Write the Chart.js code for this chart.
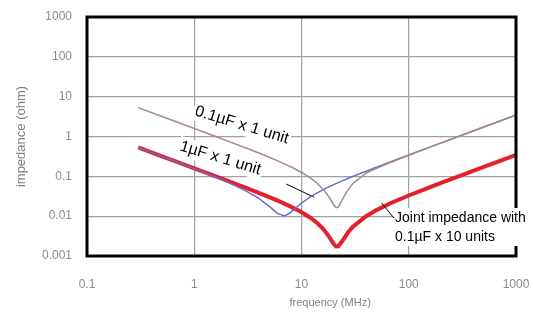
<!DOCTYPE html>
<html><head><meta charset="utf-8">
<script src="https://cdn.jsdelivr.net/npm/chart.js@4/dist/chart.umd.min.js"></script>
<style>html,body{margin:0;padding:0;background:#fff;}#wrap{width:533px;height:320px;}</style>
</head><body><div id="wrap"><canvas id="c" width="533" height="320"></canvas></div>
<script>
// frequency points (MHz)
const frequencies = [0.3,0.5,0.7,1,1.5,2,3,4,5,6,7,8,9,10,12,14,16,18,20,21,22,24,27,30,40,50,70,100,150,200,300,500,700,1000];
// impedance (ohm)
const cap01x1 = [5.30,3.18,2.27,1.59,1.06,0.789,0.520,0.384,0.301,0.245,0.203,0.172,0.146,0.125,0.0925,0.0672,0.0470,0.0307,0.0191,0.0163,0.0168,0.026,0.045,0.065,0.120,0.160,0.232,0.338,0.512,0.686,1.033,1.725,2.418,3.456];
const cap1x1 = [0.530,0.317,0.225,0.156,0.1014,0.0734,0.0439,0.0279,0.0176,0.0116,0.0101,0.0126,0.0167,0.0212,0.0299,0.0383,0.0465,0.0543,0.0619,0.0658,0.0695,0.0770,0.088,0.0989,0.1346,0.170,0.240,0.344,0.517,0.690,1.036,1.728,2.419,3.456];
const joint01x10 = [0.530,0.318,0.227,0.159,0.1056,0.0789,0.0521,0.0384,0.0301,0.0245,0.0203,0.0171,0.0146,0.0125,0.00927,0.00675,0.00474,0.00312,0.0020,0.00173,0.00174,0.00238,0.00383,0.00535,0.00999,0.0142,0.0220,0.0330,0.0508,0.0683,0.103,0.1725,0.242,0.346];
const xTickValues = [0.1,1,10,100,1000];
const xTickLabels = ['0.1','1','10','100','1000'];
const yTickValues = [0.001,0.01,0.1,1,10,100,1000];
const yTickLabels = ['0.001','0.01','0.1','1','10','100','1000'];
const seriesNames = ['0.1µF x 1 unit','1µF x 1 unit','Joint impedance with 0.1µF x 10 units'];
const jointLabelLines = ['Joint impedance with','0.1µF x 10 units'];
const xTitle = 'frequency (MHz)';
const yTitle = 'impedance (ohm)';

const toPts = arr => frequencies.map((f,i)=>({x:f,y:arr[i]}));
const FONT = '"Liberation Sans", Arial, sans-serif';

function rotatedLabel(ctx, text, x, y, angleDeg, size){
  ctx.save();
  ctx.translate(x,y);
  ctx.rotate(angleDeg*Math.PI/180);
  ctx.font = size+'px '+FONT;
  const w = ctx.measureText(text).width;
  ctx.fillStyle = '#fff';
  ctx.fillRect(-2,-size*0.62,w+4,size*1.24);
  ctx.fillStyle = '#000';
  ctx.textAlign='left'; ctx.textBaseline='middle';
  ctx.fillText(text,0,0);
  ctx.restore();
}

const annot = {
  id:'annot',
  beforeDatasetsDraw(chart){
    const {ctx, scales:{x,y}} = chart;
    rotatedLabel(ctx, seriesNames[0], x.getPixelForValue(1.02), y.getPixelForValue(4.4), 17, 16);
    rotatedLabel(ctx, seriesNames[1], x.getPixelForValue(0.74), y.getPixelForValue(0.58), 17, 16);
    ctx.save();
    ctx.strokeStyle='#000'; ctx.lineWidth=1;
    ctx.beginPath();
    ctx.moveTo(x.getPixelForValue(7.2), y.getPixelForValue(0.064));
    ctx.lineTo(x.getPixelForValue(13.1), y.getPixelForValue(0.030));
    ctx.stroke();
    ctx.restore();
  },
  afterDatasetsDraw(chart){
    const {ctx, chartArea:a, scales:{x,y}} = chart;
    ctx.save();
    ctx.strokeStyle='#000'; ctx.lineWidth=3;
    ctx.strokeRect(a.left,a.top,a.right-a.left,a.bottom-a.top);
    // joint label
    ctx.font = '14px '+FONT;
    const lx = x.getPixelForValue(74.5);
    const ly1 = y.getPixelForValue(0.009), ly2 = y.getPixelForValue(0.003);
    const w = Math.max(...jointLabelLines.map(t=>ctx.measureText(t).width));
    ctx.fillStyle='#fff';
    ctx.fillRect(lx-2, ly1-10, w+4, ly2-ly1+19);
    ctx.fillStyle='#000'; ctx.textAlign='left'; ctx.textBaseline='middle';
    ctx.fillText(jointLabelLines[0], lx, ly1);
    ctx.fillText(jointLabelLines[1], lx, ly2);
    ctx.lineWidth=1;
    ctx.beginPath();
    ctx.moveTo(x.getPixelForValue(56), y.getPixelForValue(0.0214));
    ctx.lineTo(x.getPixelForValue(72.8), y.getPixelForValue(0.0089));
    ctx.stroke();
    // x title
    ctx.font='11px '+FONT; ctx.fillStyle='#808080'; ctx.textAlign='center';
    ctx.fillText(xTitle, x.getPixelForValue(18.5), 303);
    ctx.restore();
  }
};

new Chart(document.getElementById('c'),{
  type:'line',
  data:{datasets:[
    {label:seriesNames[0],data:toPts(cap01x1),borderColor:'#a98888',borderWidth:1.5,pointRadius:0,tension:0},
    {label:seriesNames[1],data:toPts(cap1x1),borderColor:'#6a6ad4',borderWidth:1.5,pointRadius:0,tension:0},
    {label:seriesNames[2],data:toPts(joint01x10),borderColor:'#e4202a',borderWidth:4,pointRadius:0,tension:0}
  ]},
  options:{
    responsive:false, animation:false, devicePixelRatio:1,
    layout:{padding:{top:17,right:17,left:0,bottom:0}},
    plugins:{legend:{display:false},tooltip:{enabled:false}},
    scales:{
      x:{type:'logarithmic',min:0.1,max:1000,
        afterBuildTicks(s){s.ticks=xTickValues.map(v=>({value:v}));},
        afterFit(s){s.height=64;s.paddingLeft=0;s.paddingRight=0;},
        ticks:{autoSkip:false,maxRotation:0,padding:21,color:'#8a8a8a',font:{family:FONT,size:12},
          callback:(v)=>{const i=xTickValues.indexOf(v);return i>=0?xTickLabels[i]:'';}},
        grid:{color:'#a0a0a0',lineWidth:1.2,drawTicks:false},
        border:{display:false}
      },
      y:{type:'logarithmic',min:0.001,max:1000,
        afterBuildTicks(s){s.ticks=yTickValues.map(v=>({value:v}));},
        afterFit(s){s.width=87;s.paddingTop=0;s.paddingBottom=0;},
        ticks:{autoSkip:false,padding:15,color:'#8a8a8a',font:{family:FONT,size:12},
          callback:(v)=>{const i=yTickValues.findIndex(t=>Math.abs(t-v)/t<1e-6);return i>=0?yTickLabels[i]:'';}},
        grid:{color:'#a0a0a0',lineWidth:1.2,drawTicks:false},
        border:{display:false},
        title:{display:true,text:yTitle,color:'#808080',font:{family:FONT,size:13},padding:{top:14,bottom:0}}
      }
    }
  },
  plugins:[annot]
});
</script></body></html>
